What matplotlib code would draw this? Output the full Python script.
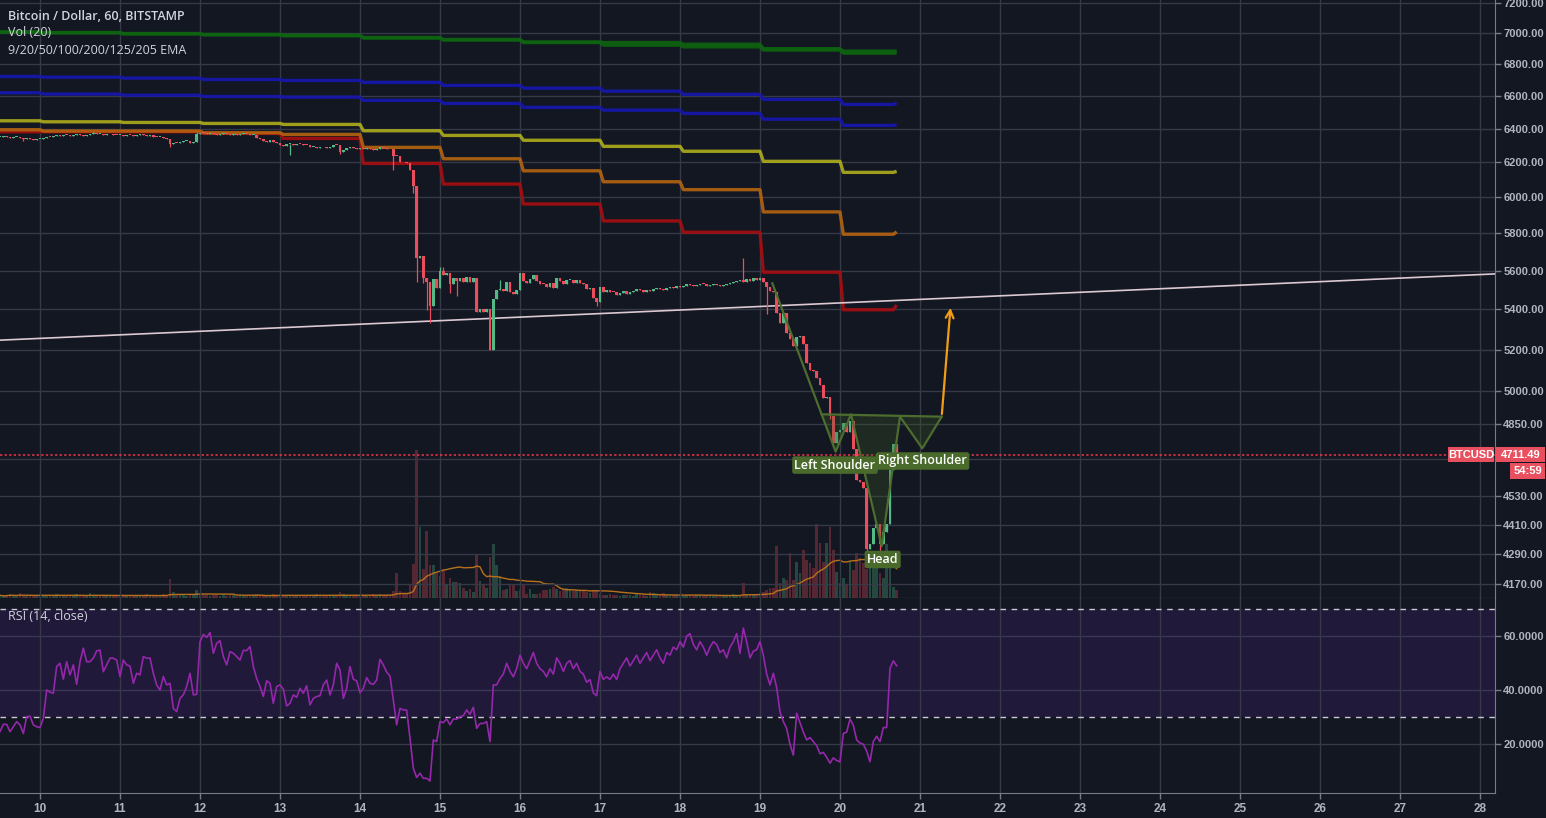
import numpy as np
import pandas as pd
import matplotlib
matplotlib.use("Agg")
from matplotlib import pyplot as plt
from matplotlib.patches import Polygon, Rectangle

plt.rcParams['font.family'] = ['Open Sans', 'DejaVu Sans']

# hourly candles (index 0 = day 9, 12:00), closing prices
closes = [
    # day 9 (from 12:00)
    6352, 6356, 6350, 6345, 6348, 6352, 6344, 6340, 6346, 6338, 6334, 6336,
    # day 10
    6338, 6344, 6350, 6348, 6355, 6360, 6358, 6364, 6360, 6356, 6362, 6366,
    6360, 6358, 6364, 6370, 6372, 6366, 6368, 6362, 6365, 6368, 6362, 6360,
    # day 11
    6362, 6358, 6364, 6360, 6356, 6362, 6365, 6360, 6356, 6360, 6352, 6348,
    6350, 6344, 6338, 6310, 6316, 6312, 6320, 6324, 6328, 6316, 6318, 6370,
    # day 12
    6376, 6372, 6366, 6372, 6368, 6362, 6366, 6372, 6368, 6364, 6368, 6362,
    6366, 6370, 6366, 6362, 6364, 6345, 6336, 6326, 6322, 6330, 6318, 6314,
    # day 13
    6300, 6296, 6306, 6308, 6304, 6308, 6306, 6302, 6300, 6290, 6292, 6286,
    6292, 6288, 6282, 6288, 6304, 6300, 6262, 6272, 6284, 6290, 6284, 6280,
    # day 14
    6282, 6276, 6284, 6280, 6274, 6278, 6290, 6286, 6280, 6276, 6238, 6236,
    6205, 6200, 6198, 6156, 6064, 5665, 5680, 5560, 5540, 5415, 5557, 5510,
    # day 15
    5600, 5578, 5590, 5528, 5560, 5545, 5560, 5540, 5565, 5540, 5560, 5385,
    5402, 5386, 5400, 5198, 5455, 5500, 5505, 5495, 5543, 5490, 5478, 5498,
    # day 16
    5588, 5545, 5535, 5555, 5575, 5548, 5532, 5528, 5515, 5535, 5508, 5560,
    5545, 5528, 5550, 5553, 5535, 5553, 5535, 5528, 5505, 5512, 5458, 5435,
    # day 17
    5515, 5490, 5497, 5490, 5489, 5475, 5482, 5492, 5480, 5488, 5495, 5505,
    5498, 5490, 5500, 5493, 5505, 5512, 5503, 5498, 5508, 5515, 5512, 5520,
    # day 18
    5515, 5522, 5530, 5526, 5518, 5524, 5532, 5528, 5520, 5525, 5530, 5526,
    5518, 5524, 5530, 5535, 5540, 5545, 5552, 5540, 5555, 5548, 5560, 5552,
    # day 19
    5562, 5540, 5515, 5493, 5490, 5380, 5330, 5380, 5282, 5250, 5215, 5262,
    5268, 5227, 5134, 5101, 5095, 5061, 5030, 4968, 4975, 4884, 4763, 4810,
    # day 20 (to 17:00)
    4822, 4855, 4812, 4862, 4735, 4600, 4590, 4565, 4310, 4330, 4396, 4413,
    4330, 4380, 4413, 4644, 4760, 4711.49,
]
first_open = 6348

# visible wicks (candle index -> price)
wick_low = {7: 6328, 51: 6290, 87: 6244, 102: 6250, 118: 6156, 124: 6024,
            125: 5541, 127: 5536, 128: 5397, 129: 5331, 135: 5486, 137: 5470,
            179: 5417, 230: 5375, 249: 4870, 260: 4290, 264: 4300}
wick_high = {28: 6380, 59: 6378, 132: 5622, 133: 5618, 150: 5551, 223: 5667}

volume = [
    3, 2, 3, 4, 3, 2, 5, 3, 2, 3, 2, 3,
    4, 3, 3, 2, 3, 4, 3, 2, 3, 3, 2, 4, 3, 2, 3, 5, 3, 2, 3, 2, 3, 3, 2, 3,
    3, 2, 3, 3, 2, 3, 2, 3, 4, 3, 2, 3, 3, 4, 3, 19, 6, 4, 3, 3, 2, 3, 3, 8,
    5, 3, 3, 2, 3, 3, 2, 3, 2, 3, 3, 2, 3, 3, 2, 3, 3, 4, 3, 3, 2, 3, 4, 3,
    4, 3, 3, 2, 3, 3, 2, 3, 3, 2, 3, 4, 3, 2, 3, 3, 2, 3, 6, 4, 3, 3, 2, 3,
    3, 3, 2, 3, 4, 3, 4, 3, 3, 3, 7, 25, 7, 5, 5, 14, 34, 148, 71, 29, 67, 33, 33, 25,
    22, 27, 14, 20, 16, 16, 15, 10, 7, 9, 6, 44, 17, 13, 10, 41, 54, 33, 22, 8, 9, 13, 14, 7,
    8, 14, 4, 9, 4, 4, 5, 8, 8, 9, 11, 9, 7, 9, 10, 9, 7, 8, 8, 7, 6, 5, 8, 8,
    4, 3, 3, 4, 3, 3, 2, 3, 3, 3, 2, 5, 3, 3, 2, 6, 5, 3, 3, 5, 3, 2, 3, 3,
    3, 2, 3, 3, 2, 3, 3, 2, 3, 3, 2, 3, 3, 2, 3, 3, 4, 3, 3, 15, 4, 3, 4, 3,
    5, 6, 8, 10, 10, 52, 15, 20, 18, 45, 18, 36, 25, 48, 38, 35, 30, 74, 55, 36, 55, 71, 48, 26,
    15, 20, 14, 36, 28, 45, 40, 35, 29, 31, 41, 35, 25, 20, 54, 30, 11, 8,
]

rsi = [
    24.7, 27.4, 27.4, 24.7, 26.5, 28.4, 27.2, 24.0, 30.2, 30.4, 27.2, 26.5,
    26.2, 29.6, 40.1, 39.3, 38.9, 48.8, 50.0, 44.1, 50.6, 45.7, 49.4, 42.2,
    50.6, 55.6, 50.6, 50.6, 51.9, 54.6, 54.9, 46.9, 49.4, 51.9, 51.9, 51.2,
    45.1, 51.2, 49.4, 49.0, 42.6, 46.3, 45.7, 52.5, 51.9, 51.9, 46.3, 42.0,
    40.1, 45.1, 42.0, 42.6, 33.3, 32.1, 37.0, 38.3, 41.4, 46.3, 38.3, 38.5,
    58.0, 60.7, 59.6, 61.4, 53.7, 57.4, 58.4, 52.5, 49.4, 54.3, 53.7, 52.5,
    51.2, 54.8, 54.7, 56.2, 48.8, 44.4, 41.4, 37.7, 43.5, 42.6, 35.2, 41.4,
    42.0, 40.4, 34.2, 35.2, 38.3, 37.4, 40.7, 38.9, 41.7, 34.6, 37.0, 37.7,
    38.0, 42.0, 43.8, 38.3, 42.0, 50.0, 47.5, 37.0, 40.7, 48.8, 44.1, 43.5,
    39.1, 40.7, 44.7, 42.6, 42.2, 43.8, 51.5, 49.4, 46.7, 45.3, 36.4, 27.2,
    33.3, 32.7, 32.7, 22.2, 11.1, 7.7, 9.3, 7.4, 7.4, 6.4, 21.6, 21.0,
    28.4, 28.0, 29.4, 27.2, 29.4, 29.3, 30.2, 30.6, 32.7, 31.1, 33.7, 25.9,
    27.7, 27.7, 28.4, 21.0, 42.0, 42.0, 44.4, 46.0, 50.0, 47.0, 45.0, 48.0,
    53.0, 50.0, 48.0, 51.0, 54.0, 50.0, 48.0, 47.0, 45.0, 48.0, 46.0, 52.0,
    50.0, 47.0, 50.0, 51.0, 48.0, 50.0, 47.0, 46.0, 43.0, 44.0, 39.0, 38.0,
    47.0, 44.0, 45.0, 44.0, 46.0, 44.0, 48.0, 50.0, 52.0, 49.0, 51.0, 53.0,
    50.0, 52.0, 54.0, 51.0, 53.0, 55.0, 52.0, 50.0, 54.0, 53.0, 56.0, 55.0,
    58.0, 56.0, 60.0, 61.0, 57.0, 55.0, 58.0, 56.0, 53.0, 56.0, 58.0, 57.0,
    54.0, 55.0, 52.0, 56.0, 58.0, 61.0, 53.7, 63.0, 58.0, 52.0, 54.5, 55.0,
    58.0, 53.0, 46.0, 42.0, 46.3, 41.0, 32.0, 28.4, 25.9, 20.0, 16.0, 31.5,
    28.0, 24.5, 21.6, 22.5, 21.0, 19.5, 16.5, 17.0, 15.2, 13.0, 15.0, 14.0,
    13.5, 24.0, 24.5, 29.4, 27.0, 21.6, 20.5, 20.0, 17.5, 13.5, 21.0, 23.0,
    21.0, 26.2, 26.2, 48.1, 50.9, 49.1,
]

# daily EMA values (days 9..20) and the value of the running candle
ema_days = {
    '9':   [6381, 6381, 6381, 6371, 6341, 6194, 6075, 5962, 5868, 5806, 5592, 5398],
    '20':  [6393, 6385, 6385, 6375, 6365, 6288, 6221, 6151, 6088, 6043, 5918, 5795],
    '50':  [6447, 6441, 6437, 6431, 6425, 6387, 6359, 6330, 6294, 6265, 6206, 6142],
    '100': [6619, 6611, 6604, 6596, 6592, 6572, 6553, 6529, 6512, 6492, 6457, 6419],
    '125': [6721, 6717, 6711, 6702, 6696, 6684, 6665, 6648, 6629, 6609, 6578, 6547],
    '200': [7006, 7002, 6995, 6989, 6983, 6968, 6955, 6939, 6922, 6911, 6890, 6870],
    '205': [7009, 7005, 6998, 6992, 6987, 6972, 6959, 6943, 6939, 6928, 6899, 6883],
}
ema_live = {'9': 5422, '20': 5808, '50': 6148, '100': 6423, '125': 6555,
            '200': 6870, '205': 6883}
ema_colors = {'9': '#a80d10', '20': '#b5640f', '50': '#aeae1c', '100': '#1616b0',
              '125': '#1616b0', '200': '#0d640f', '205': '#0d640f'}

price_ticks = [7200, 7000, 6800, 6600, 6400, 6200, 6000, 5800, 5600, 5400,
               5200, 5000, 4850, 4690, 4530, 4410, 4290, 4170]
rsi_ticks = [20, 40, 60]
day_labels = list(range(10, 29))

# trend line and head & shoulders drawing (hour index, price)
trend = ([0, 448.5], [5246, 5583])
hs_path = ([231.7, 250.7, 255.3, 264.5, 270.0, 276.7, 282.5],
           [5534, 4724, 4893, 4323, 4882, 4739, 4882])
neck = ([246.5, 282.5], [4893, 4882])
arrow_from = (282.5, 4882)
arrow_to = (285.2, 5422)
last_price = 4711.49

BG = '#131722'
GRID = '#363a46'
TXT = '#b2b5be'
UP, DOWN = '#53b987', '#eb4d5c'
W, H = 1546, 818

n = len(closes)
hours = np.arange(n)
closes = np.array(closes, dtype=float)
opens = np.r_[first_open, closes[:-1]]
body_lo = np.minimum(opens, closes)
body_hi = np.maximum(opens, closes)
lows, highs = body_lo.copy(), body_hi.copy()
for k, v in wick_low.items():
    lows[k] = min(lows[k], v)
for k, v in wick_high.items():
    highs[k] = max(highs[k], v)
up = closes >= opens
cols = np.where(up, UP, DOWN)

fig = plt.figure(figsize=(W / 100, H / 100), dpi=100, facecolor=BG)
xr = 1495 / W
main_rect = [0, 1 - 598.3 / H, xr, 598.3 / H]
rsi_rect = [0, 1 - 793 / H, xr, (793 - 598.3) / H]

vax = fig.add_axes(main_rect, facecolor=BG)
ax = fig.add_axes(main_rect)
ax.patch.set_visible(False)
rax = fig.add_axes(rsi_rect, facecolor=BG)

xlim = (0, 448.5)
day_pos = [12 + 24 * k for k in range(len(day_labels))]

# volume
vol = np.array(volume, dtype=float)
vax.bar(hours, vol, width=0.75, color=cols, alpha=0.3, linewidth=0)
vax.plot(hours, pd.Series(vol).rolling(20, min_periods=1).mean(), color='#b8711a', lw=1)
vax.set_xlim(*xlim)
vax.set_ylim(0, 598.3)
vax.axis('off')

# main price panel
ax.set_yscale('log')
ax.set_xlim(*xlim)
ax.set_ylim(4116, 7222)
for p in price_ticks:
    ax.axhline(p, color=GRID, lw=1, zorder=0.5)
for d in day_pos:
    ax.axvline(d, color=GRID, lw=1, zorder=0.5)

day_idx = (hours + 11) // 24
for name, vals in ema_days.items():
    series = np.array(vals, dtype=float)[day_idx]
    series[-1] = ema_live[name]
    ax.plot(hours, series, color=ema_colors[name], lw=2.4, alpha=0.9, zorder=2,
            solid_capstyle='butt')

ax.plot(*trend, color='#dcc9d2', lw=1.2, zorder=3)
ax.axhline(last_price, color='#f23645', lw=1.1, ls=(0, (1.5, 1.5)), zorder=3)

ax.vlines(hours, lows, highs, colors=cols, lw=0.9, zorder=4)
ax.bar(hours, np.maximum(body_hi - body_lo, 5), bottom=body_lo, width=0.78,
       color=cols, linewidth=0, zorder=4)

# head & shoulders
hx, hy = hs_path
tri = [[(neck[0][0], neck[1][0]), (hx[1], hy[1]), (hx[2], hy[2])],
       [(hx[2], hy[2]), (hx[3], hy[3]), (hx[4], hy[4])],
       [(hx[4], hy[4]), (hx[5], hy[5]), (hx[6], hy[6])]]
for t in tri:
    ax.add_patch(Polygon(t, closed=True, facecolor='#3c5e25', alpha=0.28,
                         edgecolor='none', zorder=5))
ax.plot(hx, hy, color='#4d6d2e', lw=1.6, zorder=5)
ax.plot(*neck, color='#4d6d2e', lw=1.6, zorder=5)
ax.annotate('', xy=arrow_to, xytext=arrow_from,
            arrowprops=dict(arrowstyle='->', color='#f29d16', lw=1.6,
                            mutation_scale=14), zorder=6)

lbl = dict(color='white', fontsize=9, fontweight='semibold', ha='center', va='center',
           zorder=7, bbox=dict(boxstyle='round,pad=0.18', fc='#4a6a2c', ec='none'))
ax.text(250.5, 4665, 'Left Shoulder', **lbl)
ax.text(276.8, 4683, 'Right Shoulder', **lbl)
ax.text(264.8, 4269, 'Head', **lbl)

ax.yaxis.tick_right()
ax.set_yticks(price_ticks)
ax.set_yticklabels(['' if p == 4690 else f'{p:.2f}' for p in price_ticks])
ax.yaxis.set_minor_locator(matplotlib.ticker.NullLocator())
ax.tick_params(axis='y', colors='#787b86', labelcolor=TXT, length=4, width=1, pad=2,
               labelsize=8)
ax.set_xticks(day_pos)
ax.tick_params(axis='x', length=0, labelbottom=False)
for lab in ax.get_yticklabels():
    lab.set_fontfamily('Liberation Sans')
    lab.set_fontweight('bold')
for s in ['top', 'left']:
    ax.spines[s].set_visible(False)
ax.spines['right'].set_color('#787b86')
ax.spines['bottom'].set_color('#787b86')

# RSI panel
rax.set_xlim(*xlim)
rax.set_ylim(1.96, 74.07)
rax.axhspan(30, 70, color='#21193a', lw=0, zorder=0.2)
for r in rsi_ticks:
    rax.axhline(r, color=GRID if r == 20 else '#3b3557', lw=1, zorder=0.5)
for d in day_pos:
    rax.axvline(d, color=GRID, lw=1, zorder=0.5)
for r in (30, 70):
    rax.axhline(r, color='#c9c9d2', lw=1, ls=(0, (4, 4)), zorder=1)
rax.plot(hours, rsi, color='#9527ab', lw=1.2, zorder=3)
rax.yaxis.tick_right()
rax.set_yticks(rsi_ticks)
rax.set_yticklabels([f'{r:.4f}' for r in rsi_ticks])
rax.set_xticks(day_pos)
rax.set_xticklabels([str(d) for d in day_labels])
rax.tick_params(axis='y', colors='#787b86', labelcolor=TXT, length=4, width=1, pad=2,
                labelsize=8)
rax.tick_params(axis='x', colors='#787b86', labelcolor=TXT, length=4, width=1, pad=3,
                labelsize=8.5)
for lab in rax.get_yticklabels() + rax.get_xticklabels():
    lab.set_fontfamily('Liberation Sans')
    lab.set_fontweight('bold')
for s in ['top', 'left']:
    rax.spines[s].set_visible(False)
rax.spines['right'].set_color('#787b86')
rax.spines['bottom'].set_color('#787b86')

# titles
fig.text(8 / W, 1 - 16 / H, 'Bitcoin / Dollar, 60, BITSTAMP', color='#d1d4dc',
         fontsize=9, fontweight='semibold', va='center')
fig.text(8 / W, 1 - 33 / H, 'Vol (20)', color='#d1d4dc', fontsize=9, va='center')
fig.text(8 / W, 1 - 50 / H, '9/20/50/100/200/125/205 EMA', color='#d1d4dc',
         fontsize=9, va='center')
fig.text(8 / W, 1 - 617 / H, 'RSI (14, close)', color='#d1d4dc', fontsize=9,
         va='center')


def px_box(x0, y0, x1, y1, text, color='#e9505f'):
    fig.patches.append(Rectangle((x0 / W, 1 - y1 / H), (x1 - x0) / W, (y1 - y0) / H,
                                 transform=fig.transFigure, facecolor=color,
                                 edgecolor='none', zorder=10))
    fig.text((x0 + x1) / 2 / W, 1 - (y0 + y1) / 2 / H, text, color='white',
             fontsize=8, fontweight='bold', family='Liberation Sans',
             ha='center', va='center', zorder=11)


px_box(1448, 447, 1494, 462, 'BTCUSD')
px_box(1496, 447, 1545, 462, f'{last_price:.2f}')
px_box(1510, 463, 1545, 479, '54:59')

fig.savefig('out.png', dpi=100, facecolor=BG)
